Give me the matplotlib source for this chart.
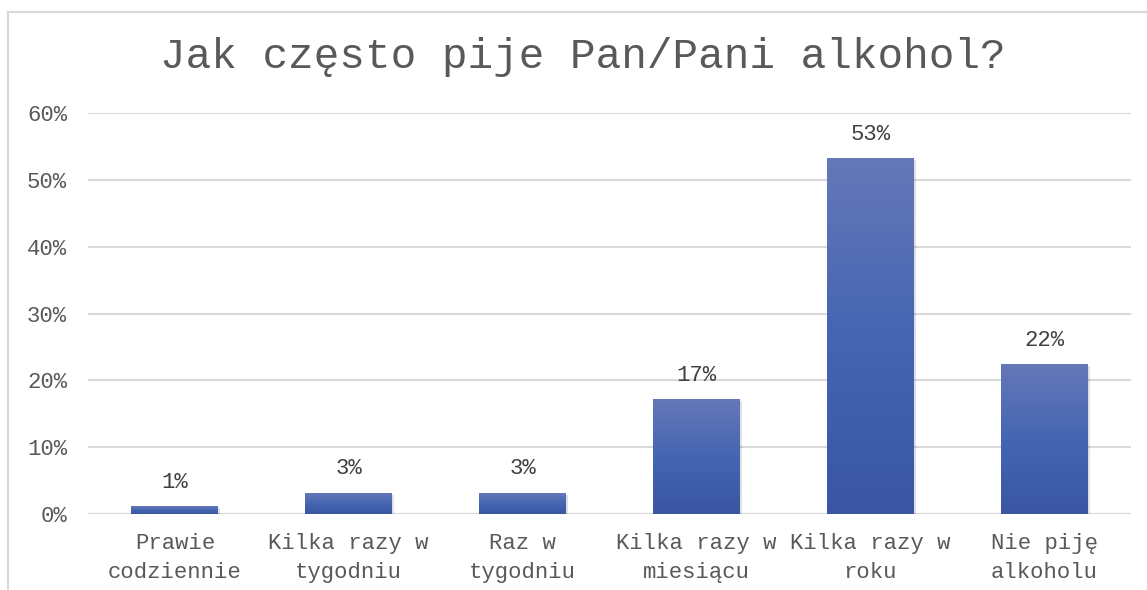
import matplotlib.pyplot as plt
import numpy as np
from matplotlib.patches import Rectangle
from matplotlib.colors import LinearSegmentedColormap

# Data
categories = ["Prawie\ncodziennie", "Kilka razy w\ntygodniu", "Raz w\ntygodniu",
              "Kilka razy w\nmiesiącu", "Kilka razy w\nroku", "Nie piję\nalkoholu"]
values = [0.011, 0.031, 0.031, 0.171, 0.532, 0.223]
value_labels = ["1%", "3%", "3%", "17%", "53%", "22%"]
yticks = [0, 0.1, 0.2, 0.3, 0.4, 0.5, 0.6]
ytick_labels = ["0%", "10%", "20%", "30%", "40%", "50%", "60%"]

font = ["Liberation Mono", "DejaVu Sans Mono"]

fig = plt.figure(figsize=(11.47, 5.90), dpi=100)
ax = fig.add_axes([88 / 1147, 1 - 514 / 590, (1131 - 88) / 1147, (514 - 113) / 590])

# outer chart border (left and top visible)
fig.add_artist(plt.Line2D([8 / 1147, 8 / 1147], [0, 1 - 12 / 590],
                          transform=fig.transFigure, color="#d9d9d9", lw=1.5))
fig.add_artist(plt.Line2D([8 / 1147, 1], [1 - 12 / 590, 1 - 12 / 590],
                          transform=fig.transFigure, color="#d9d9d9", lw=1.5))

x = np.arange(len(categories))
width = 0.5
bars = ax.bar(x, values, width=width, color="none", zorder=3)

# gradient fill for bars
grad = np.linspace(0, 1, 256).reshape(-1, 1)
cmap = LinearSegmentedColormap.from_list("g", ["#3a56a2", "#4565b2", "#6578b8"])
for b in bars:
    bx, by = b.get_x(), b.get_y()
    bw, bh = b.get_width(), b.get_height()
    # soft shadow
    ax.add_patch(Rectangle((bx + 0.012, by - 0.002), bw, bh, color="#000000",
                           alpha=0.12, zorder=2, lw=0))
    ax.imshow(grad, cmap=cmap, aspect="auto", origin="lower",
              extent=(bx, bx + bw, by, by + bh), zorder=3)

for xi, v, lab in zip(x, values, value_labels):
    ax.annotate(lab, (xi, v), xytext=(0, 10), textcoords="offset points",
                ha="center", va="bottom", fontsize=16, color="#404040", family=font)

ax.set_xlim(-0.5, len(categories) - 0.5)
ax.set_ylim(0, 0.6)
ax.set_yticks(yticks)
ax.set_yticklabels(ytick_labels, family=font, fontsize=16, color="#595959")
ax.set_xticks(x)
ax.set_xticklabels(categories, family=font, fontsize=16, color="#595959",
                   linespacing=1.45)
ax.tick_params(length=0, pad=15)
ax.tick_params(axis="x", pad=14)
ax.grid(axis="y", color="#d9d9d9", lw=1.5, zorder=0)
for s in ax.spines.values():
    s.set_visible(False)
ax.axhline(0, color="#d9d9d9", lw=1.5, zorder=1)

fig.text(583 / 1147, 1 - 57 / 590, "Jak często pije Pan/Pani alkohol?",
         ha="center", va="center", fontsize=30.7, color="#595959", family=font)

fig.savefig("out.png", dpi=100)
